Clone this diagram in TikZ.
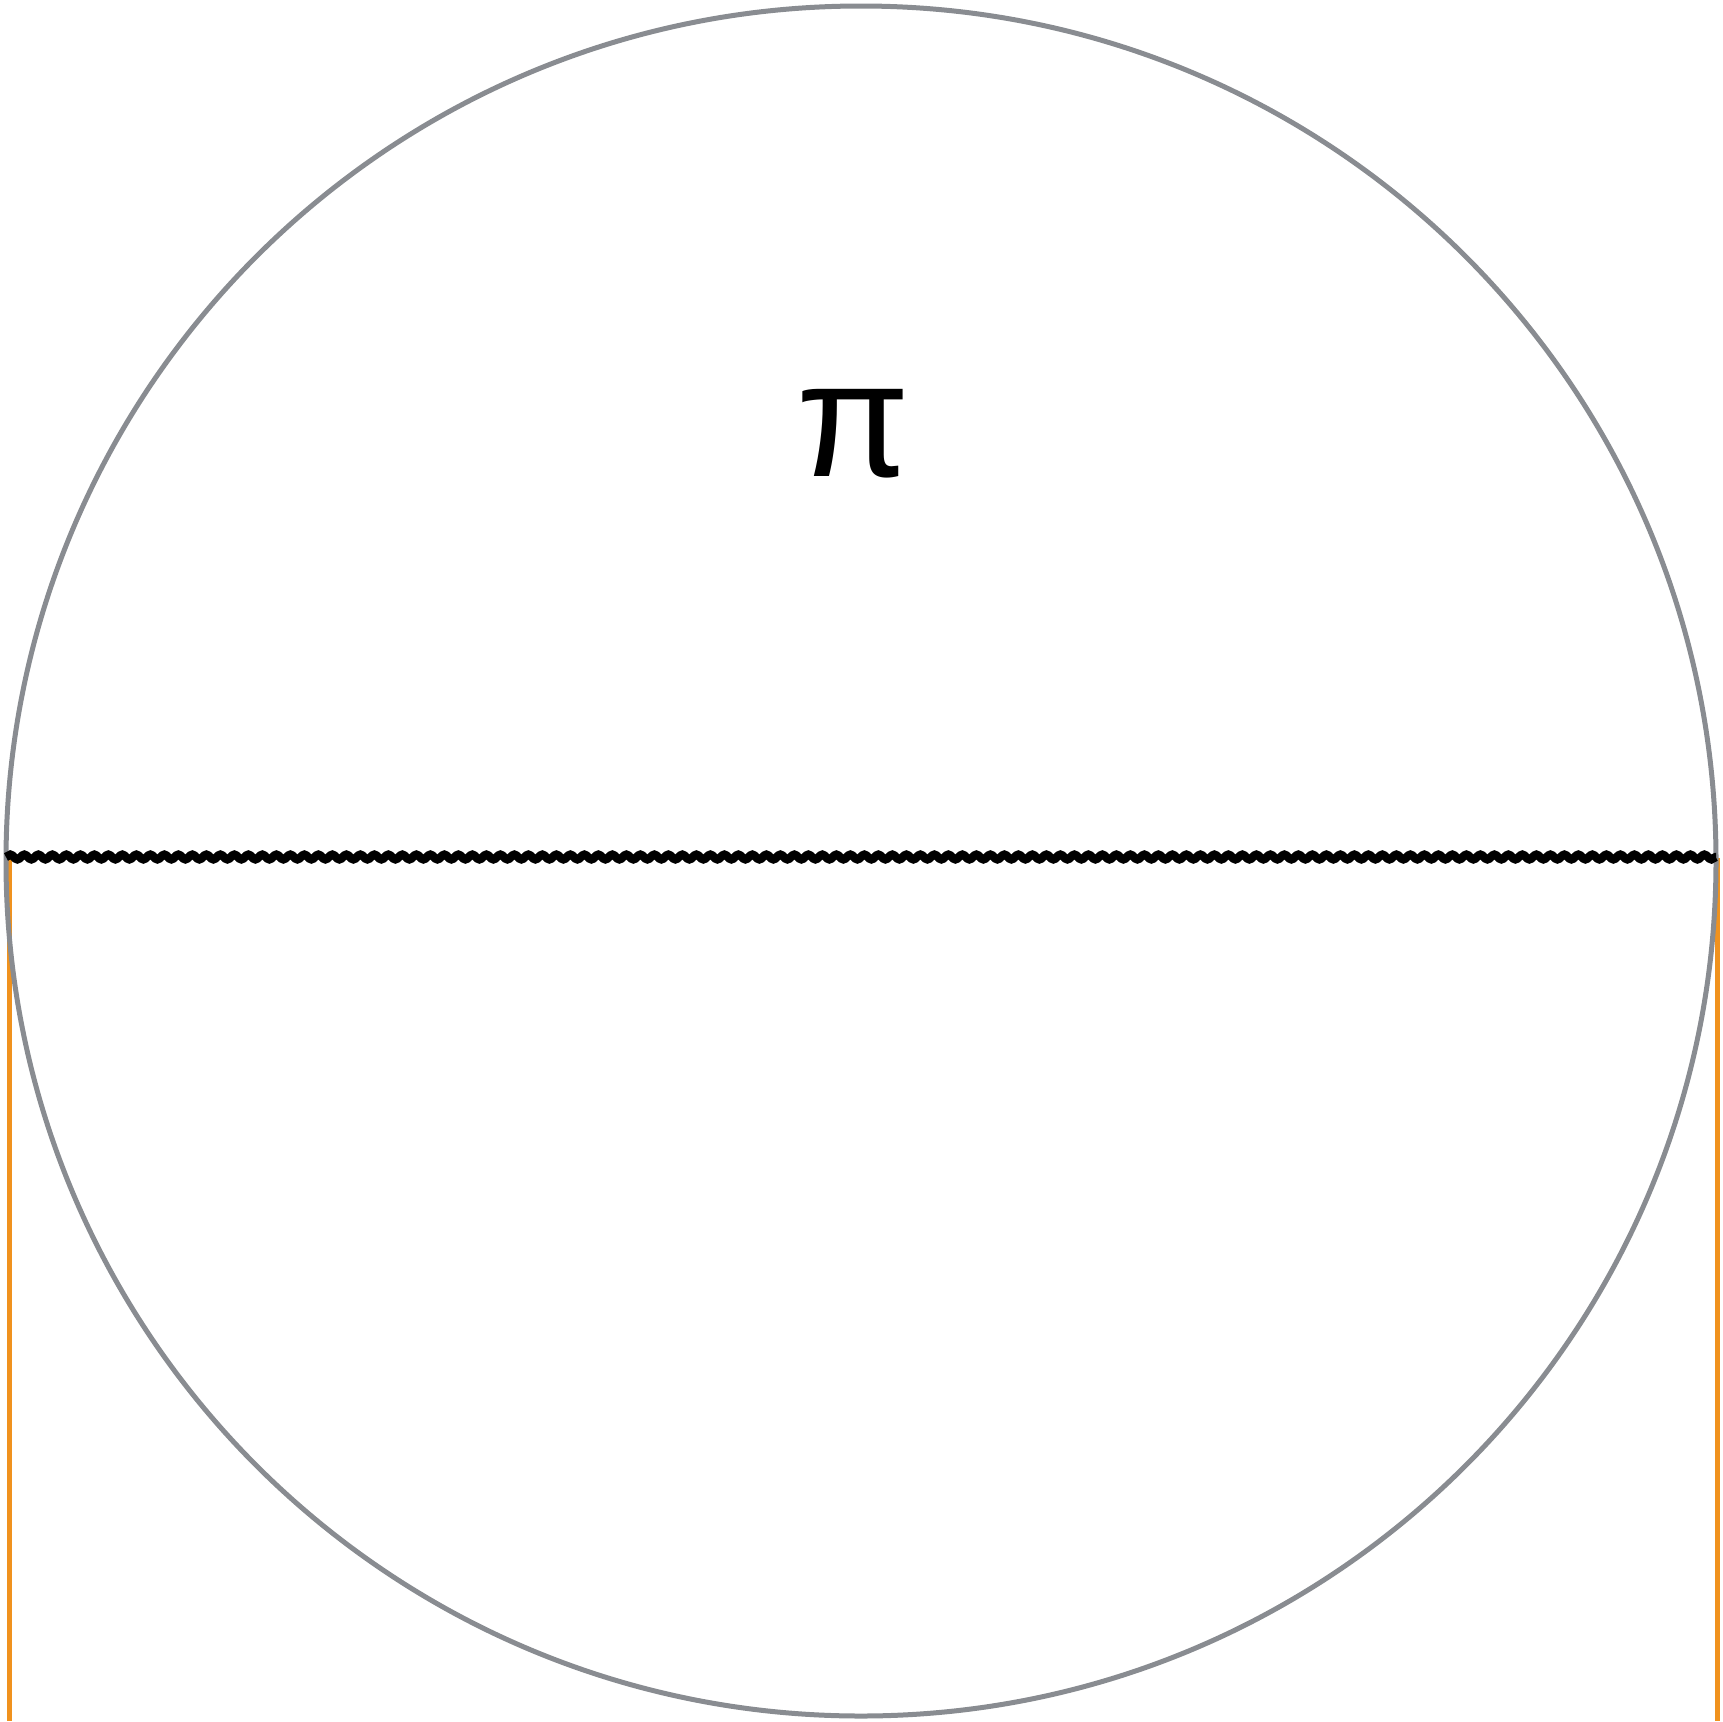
\documentclass[tikz,border=0pt]{standalone}
\usepackage{fontspec}
\newfontfamily\pifont{Liberation Sans}
\usetikzlibrary{decorations.pathmorphing}
\definecolor{ringgray}{RGB}{137,140,145}
\definecolor{legorange}{RGB}{240,146,30}
\begin{document}
\begin{tikzpicture}[x=1pt,y=-1pt,
  ring/.style={draw=ringgray,line width=5pt},
  leg/.style={draw=legorange,line width=5pt},
  wave/.style={draw=black,line width=8.5pt,decorate,decoration={snake,segment length=14pt,amplitude=2.3pt}},
  label/.style={inner sep=0pt,font=\pifont\fontsize{165}{165}\selectfont}]
\useasboundingbox (0,0) rectangle (1723,1721);
\coordinate (wl) at (6,857);
\coordinate (wr) at (1716,857);
\coordinate (ltop) at (9.5,858);
\coordinate (lbot) at (9.5,1721);
\coordinate (rtop) at (1717,858);
\coordinate (rbot) at (1717,1721);
\draw[leg] (ltop) -- (lbot);
\draw[leg] (rtop) -- (rbot);
\node[ring,circle,minimum size=1710pt,inner sep=0pt] (disc) at (861,861) {};
\draw[wave] (wl) -- (wr);
\node[label,anchor=base] (pi) at (853,476) {π};
\end{tikzpicture}
\end{document}
